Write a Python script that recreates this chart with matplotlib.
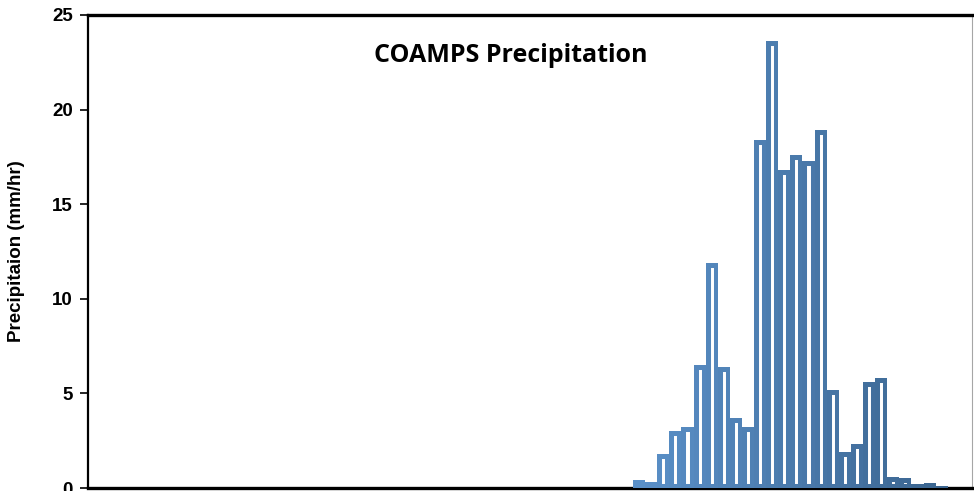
# -*- coding: utf-8 -*-
import matplotlib as mpl
import matplotlib.pyplot as plt
from matplotlib.colors import to_rgb

mpl.rcParams['font.family'] = ['Liberation Sans', 'DejaVu Sans']

# hourly COAMPS precipitation, forecast hours 0-72
hours = list(range(73))
precip = [
    0, 0, 0, 0, 0, 0, 0, 0, 0, 0,
    0, 0, 0, 0, 0, 0, 0, 0, 0, 0,
    0, 0, 0, 0, 0, 0, 0, 0, 0, 0,
    0, 0, 0, 0, 0, 0, 0, 0, 0, 0,
    0, 0, 0, 0, 0, 0.4, 0.3, 1.8, 3.0, 3.2,
    6.5, 11.9, 6.4, 3.7, 3.2, 18.4, 23.6, 16.8, 17.6, 17.3,
    18.9, 5.2, 1.9, 2.3, 5.6, 5.8, 0.6, 0.55, 0.2, 0.25,
    0.1, 0, 0,
]
y_ticks = [0, 5, 10, 15, 20, 25]
title = "COAMPS Precipitation"
y_label = "Precipitaion (mm/hr)"

LIGHT = to_rgb('#5a90c8')
DARK = to_rgb('#3b6590')


def blend(t):
    return tuple(a + (b - a) * t for a, b in zip(LIGHT, DARK))


fig = plt.figure(figsize=(9.74, 4.91), dpi=100)
ax = fig.add_axes([0.0903, 0.0061, 0.9077, 0.9634])

bars = ax.bar(hours, precip, width=1.0, facecolor='white', zorder=3)
first = 45
last = 70
for i, p in enumerate(bars):
    t = min(max((i - first) / (last - first), 0), 1)
    p.set_edgecolor(blend(t))
    p.set_linewidth(6.5)
    # keep only the inner half of the outline, like Excel borders
    p.set_clip_path(p)

ax.set_xlim(-0.5, 72.5)
ax.set_ylim(0, 25)
ax.set_yticks(y_ticks)
ax.set_xticks([])
ax.tick_params(axis='y', direction='out', length=5.5, width=1.2, pad=5.5,
               labelsize=13.5)
for lab in ax.get_yticklabels():
    lab.set_fontweight('bold')

ax.spines['left'].set_linewidth(1.6)
for side in ['top', 'bottom']:
    ax.spines[side].set_linewidth(2.4)
ax.spines['right'].set_linewidth(0.8)
ax.spines['right'].set_color('#a6a6a6')

ax.set_ylabel(y_label, fontsize=13.5, fontweight='bold')
ax.yaxis.set_label_coords(-0.071, 0.5)

ax.text(0.4785, 0.915, title, transform=ax.transAxes, ha='center',
        va='center', fontsize=18, fontweight='bold',
        family=['Open Sans', 'DejaVu Sans'])

fig.savefig('out.png', dpi=100)
